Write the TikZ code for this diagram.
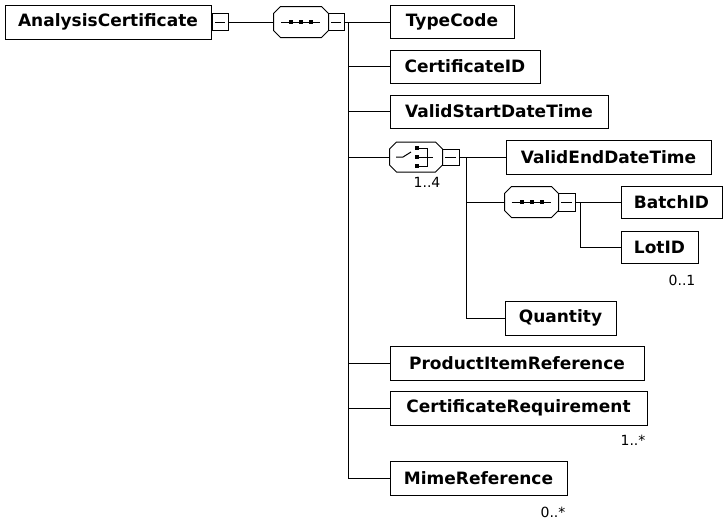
\documentclass[tikz,border=0pt]{standalone}
\usepackage{fontspec}
\setmainfont{DejaVu Sans}
\begin{document}
\begin{tikzpicture}[x=1pt,y=-1pt,line width=1pt,
  el/.style={draw,rectangle,inner sep=0pt,font=\fontsize{17}{20}\selectfont\bfseries,minimum height=34pt},
  expbox/.style={draw,rectangle,inner sep=0pt,minimum width=16pt,minimum height=17pt,
    path picture={\draw ([xshift=3pt]path picture bounding box.west) -- ([xshift=-3pt]path picture bounding box.east);}},
  comp/.style={rectangle,inner sep=0pt,minimum width=54pt,minimum height=30pt},
  mult/.style={font=\fontsize{14}{16}\selectfont,inner sep=0pt}
]
\useasboundingbox (0,0) rectangle (725,520);

% root
\node[el,minimum width=206pt] (ac) at (108,22) {AnalysisCertificate};
\node[expbox] (acx) at (220,22) {};
\node[comp] (seq) at (301,22) {};
\node[expbox] (seqx) at (336,22) {};

% children of main sequence
\node[el,minimum width=124pt,minimum height=33pt] (tc) at (452,22) {TypeCode};
\node[el,minimum width=150pt,minimum height=33pt] (cid) at (465,66.5) {CertificateID};
\node[el,minimum width=218pt,minimum height=33pt] (vsd) at (499,111.5) {ValidStartDateTime};
\node[comp,minimum width=52pt,minimum height=29pt] (ch) at (416,157) {};
\node[expbox,minimum width=17pt,minimum height=16pt] (chx) at (450.5,157) {};
\node[el,minimum width=254pt] (pir) at (517,363) {ProductItemReference};
\node[el,minimum width=257pt] (creq) at (518.5,408) {CertificateRequirement};
\node[el,minimum width=177pt] (mime) at (478.5,478) {MimeReference};

% choice children
\node[el,minimum width=205pt] (ved) at (608.5,157) {ValidEndDateTime};
\node[comp,minimum width=53pt,minimum height=30pt] (seqb) at (531.5,202) {};
\node[expbox,minimum width=17pt,minimum height=18pt] (seqbx) at (566.5,202) {};
\node[el,minimum width=111pt] (qty) at (560.5,318) {Quantity};

% inner sequence children
\node[el,minimum width=101pt,minimum height=32pt] (batch) at (671.5,202) {BatchID};
\node[el,minimum width=77pt,minimum height=32pt] (lot) at (659.5,247) {LotID};

% multiplicities
\node[mult] (m14) at (427,182) {1..4};
\node[mult] (m01) at (682,280) {0..1};
\node[mult] (m1s) at (633,440) {1..*};
\node[mult] (m0s) at (553,512) {0..*};

% compositor outlines (chamfered octagons)
\foreach \n in {seq,ch,seqb}{
  \draw ([xshift=7pt]\n.north west) -- ([xshift=-7pt]\n.north east)
     -- ([yshift=-7pt]\n.north east) -- ([yshift=7pt]\n.south east)
     -- ([xshift=-7pt]\n.south east) -- ([xshift=7pt]\n.south west)
     -- ([yshift=7pt]\n.south west) -- ([yshift=-7pt]\n.north west) -- cycle;
}
% sequence icons
\foreach \n in {seq,seqb}{
  \begin{scope}[shift={(\n.center)}]
    \draw (-20,0) -- (19,0);
    \fill (-12,-2) rectangle (-8,2);
    \fill (-2,-2) rectangle (2,2);
    \fill (8,-2) rectangle (12,2);
  \end{scope}
}
% choice icon
\begin{scope}[shift={(ch.center)}]
  \draw (-20,0) -- (-13,0) -- (-5,-5);
  \fill (-1,-11) rectangle (3,-7);
  \fill (-1,-2) rectangle (3,2);
  \fill (-1,7) rectangle (3,11);
  \draw (3,-9) -- (11,-9) -- (11,9) -- (3,9);
  \draw (3,0) -- (11,0);
  \draw (11,0) -- (17,0);
\end{scope}

% connectors
\coordinate (b1) at (348,22);
\coordinate (b2) at (466,157);
\coordinate (b3) at (580,202);
\draw (acx.east) -- (seq.west);
\draw (seqx.east) -- (tc.west);
\draw (b1) |- (cid.west);
\draw (b1) |- (vsd.west);
\draw (b1) |- (ch.west);
\draw (b1) |- (pir.west);
\draw (b1) |- (creq.west);
\draw (b1) |- (mime.west);
\draw (chx.east) -- (ved.west);
\draw (b2) |- (seqb.west);
\draw (b2) |- (qty.west);
\draw (seqbx.east) -- (batch.west);
\draw (b3) |- (lot.west);
\end{tikzpicture}
\end{document}
